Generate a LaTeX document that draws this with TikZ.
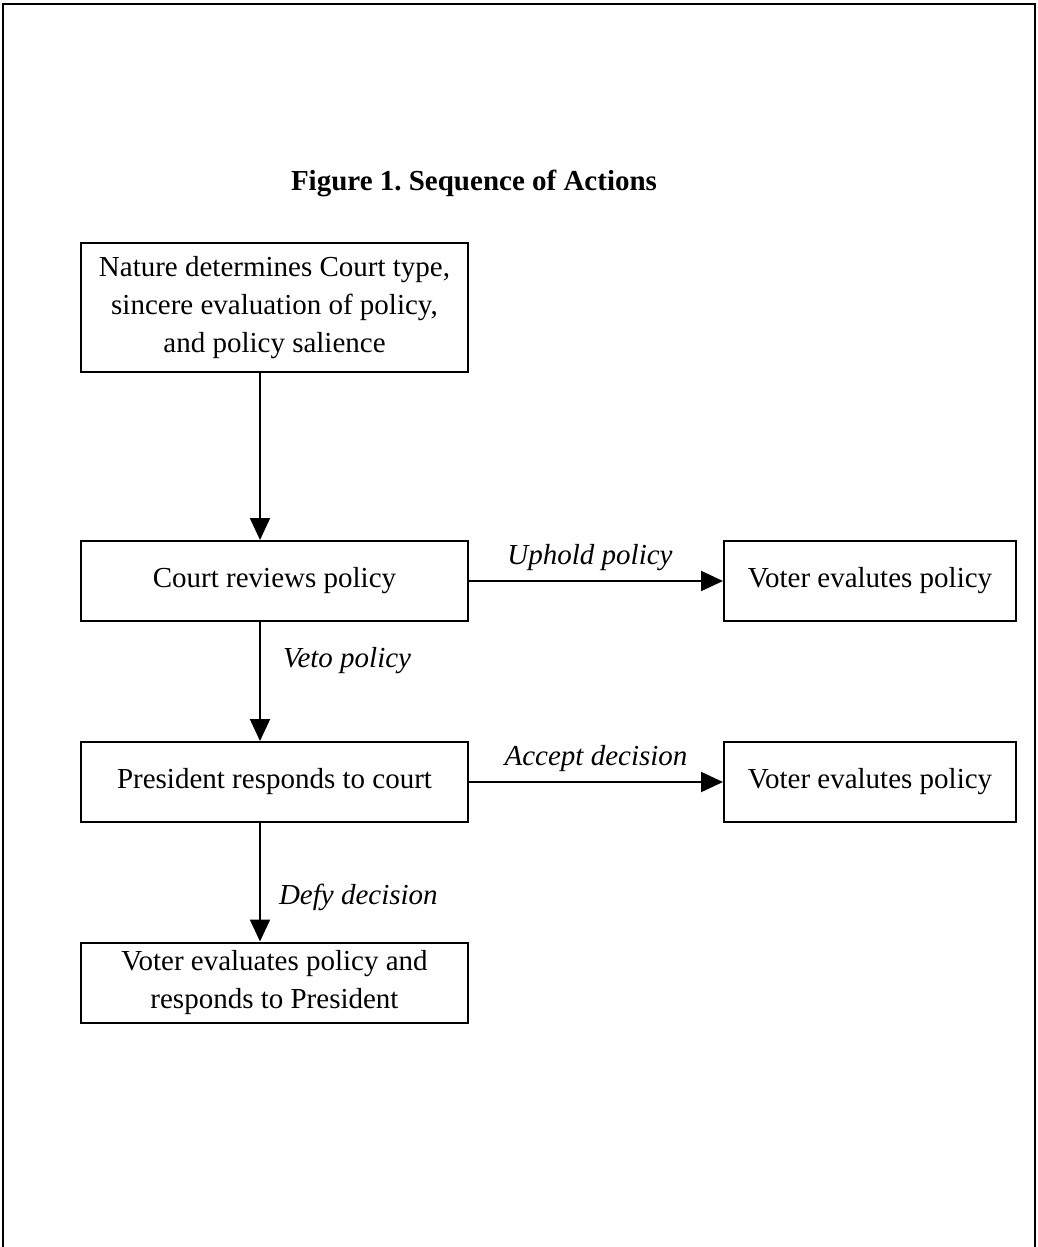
\documentclass[tikz,border=0pt]{standalone}
\usepackage{fontspec}
\setmainfont{Liberation Serif}
\usetikzlibrary{arrows.meta,calc}
\begin{document}
\frenchspacing
\begin{tikzpicture}[x=1pt,y=-1pt,
  txt/.style={font=\fontsize{29}{38}\selectfont},
  box/.style={draw,line width=2pt,rectangle,align=center,inner sep=4pt,txt},
  lbox/.style={box,minimum width=387pt,minimum height=80pt},
  rbox/.style={box,minimum width=292pt,minimum height=80pt},
  arr/.style={line width=2pt,-{Triangle[length=22pt,width=20pt]}},
  lab/.style={txt,font=\fontsize{29}{38}\selectfont\itshape,inner sep=0pt}
]
\useasboundingbox (0,0) rectangle (1037,1247);
\draw[line width=2.5pt] (3,1250) -- (3,4) -- (1035,4) -- (1035,1250);

\node[txt,font=\fontsize{29}{38}\selectfont\bfseries] (title) at (474,183) {Figure 1. Sequence of Actions};

\node[lbox,minimum height=129pt] (nature) at (274.5,307.5) {Nature determines Court type,\\sincere evaluation of policy,\\and policy salience};
\node[lbox] (court) at (274.5,581) {Court reviews policy};
\node[rbox] (voter1) at (870,581) {Voter evalutes policy};
\node[lbox] (pres) at (274.5,782) {President responds to court};
\node[rbox] (voter2) at (870,782) {Voter evalutes policy};
\node[lbox] (voter3) at (274.5,982.5) {Voter evaluates policy and\\responds to President};

\coordinate (ax) at (260,0);

\draw[arr] (nature.south -| ax) -- (court.north -| ax);
\draw[arr] (court.south -| ax) -- node[lab,anchor=west,xshift=22pt,yshift=21pt] (veto) {Veto policy} (pres.north -| ax);
\draw[arr] (pres.south -| ax) -- node[lab,anchor=west,xshift=18pt,yshift=-15pt] (defy) {Defy decision} (voter3.north -| ax);
\draw[arr] (court.east) -- node[lab,anchor=south,yshift=9pt,xshift=-6pt] (uphold) {Uphold policy} (voter1.west);
\draw[arr] (pres.east) -- node[lab,anchor=south,yshift=9pt] (accept) {Accept decision} (voter2.west);
\end{tikzpicture}
\end{document}
